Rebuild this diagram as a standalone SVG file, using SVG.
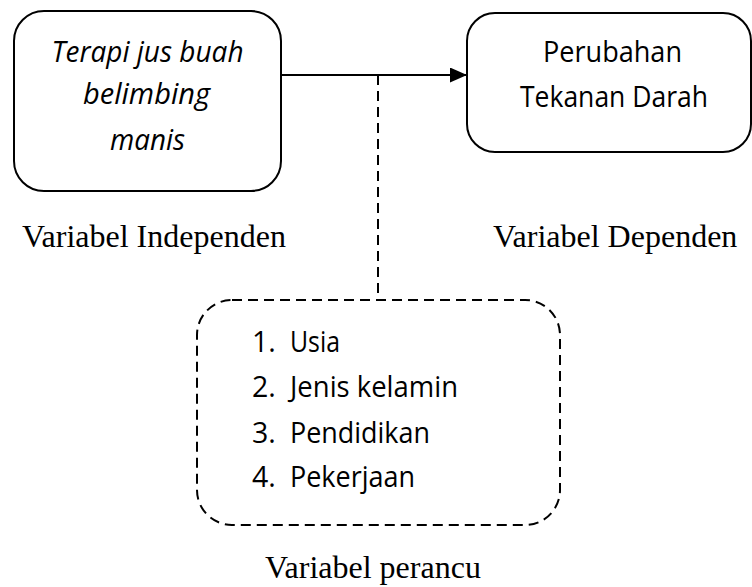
<svg xmlns="http://www.w3.org/2000/svg" width="752" height="587" viewBox="0 0 752 587">
<style>
.box{fill:#fff;stroke:#000;stroke-width:2}
.dbox{fill:none;stroke:#000;stroke-width:2;stroke-dasharray:10 6}
.sans{font-family:"Open Sans","Noto Sans",sans-serif;font-size:28.5px;fill:#000}
.it{font-style:italic}
.serif{font-family:"Liberation Serif","Times New Roman",serif;font-size:32px;fill:#000}
.conn{stroke:#000;stroke-width:2;fill:none}
</style>
<defs>
<marker id="arrow" markerUnits="userSpaceOnUse" markerWidth="18" markerHeight="16" refX="17" refY="7.5" orient="auto">
<polygon points="0,0 17,7.5 0,15" fill="#000"/>
</marker>
</defs>
<rect width="752" height="587" fill="#fff"/>
<g id="connectors">
<line class="conn" x1="281" y1="75" x2="467" y2="75" marker-end="url(#arrow)"/>
<line class="conn" x1="378" y1="75" x2="378" y2="300" stroke-dasharray="10 6"/>
</g>
<g id="node-independen">
<rect class="box" x="14" y="11" width="267" height="180" rx="30" ry="30"/>
<text class="sans it" x="147.5" y="62" text-anchor="middle" textLength="192" lengthAdjust="spacingAndGlyphs">Terapi jus buah</text>
<text class="sans it" x="146.5" y="104" text-anchor="middle" textLength="127" lengthAdjust="spacingAndGlyphs">belimbing</text>
<text class="sans it" x="147.5" y="150" text-anchor="middle" textLength="75" lengthAdjust="spacingAndGlyphs">manis</text>
</g>
<g id="node-dependen">
<rect class="box" x="467" y="13" width="284" height="139" rx="28" ry="28"/>
<text class="sans" x="612.5" y="62" text-anchor="middle" textLength="139" lengthAdjust="spacingAndGlyphs">Perubahan</text>
<text class="sans" x="614" y="107" text-anchor="middle" textLength="188" lengthAdjust="spacingAndGlyphs">Tekanan Darah</text>
</g>
<g id="node-perancu">
<rect class="dbox" x="197" y="300" width="363" height="225" rx="35" ry="35"/>
<text class="sans" x="252" y="352">1.</text>
<text class="sans" x="290" y="352" textLength="50" lengthAdjust="spacingAndGlyphs">Usia</text>
<text class="sans" x="252" y="397">2.</text>
<text class="sans" x="290" y="397" textLength="168" lengthAdjust="spacingAndGlyphs">Jenis kelamin</text>
<text class="sans" x="252" y="443">3.</text>
<text class="sans" x="290" y="443" textLength="140" lengthAdjust="spacingAndGlyphs">Pendidikan</text>
<text class="sans" x="252" y="487">4.</text>
<text class="sans" x="290" y="487" textLength="125" lengthAdjust="spacingAndGlyphs">Pekerjaan</text>
</g>
<g id="labels">
<text class="serif" x="22" y="247">Variabel Independen</text>
<text class="serif" x="493" y="247">Variabel Dependen</text>
<text class="serif" x="265" y="578">Variabel perancu</text>
</g>
</svg>
